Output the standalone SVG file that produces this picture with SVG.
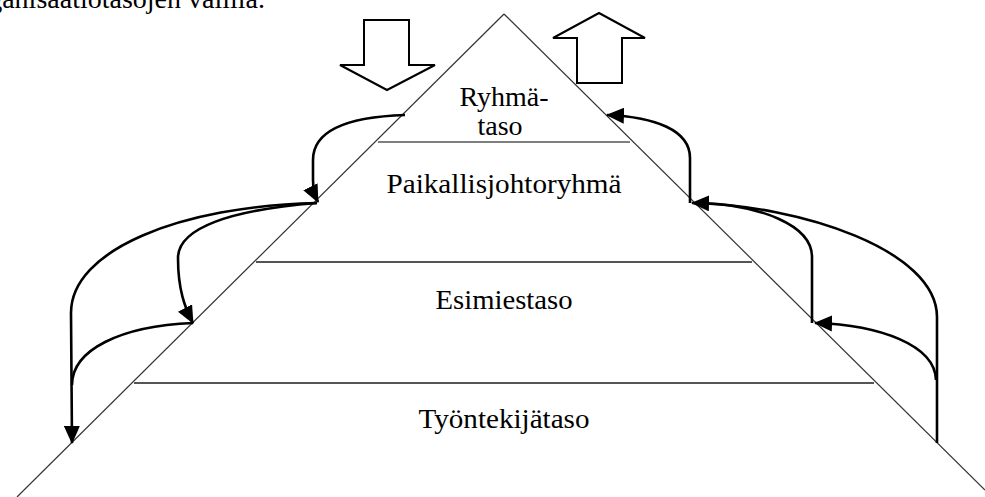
<svg xmlns="http://www.w3.org/2000/svg" width="985" height="497" viewBox="0 0 985 497">
<style>
.lbl{font-family:"Liberation Serif","Times New Roman",serif;font-size:28px;fill:#000;text-anchor:middle}
.edge{stroke:#333;stroke-width:1.2;fill:none}
.lvl{stroke:#555;stroke-width:2;fill:none}
.blk{fill:#fff;stroke:#000;stroke-width:2;stroke-linejoin:miter}
.cv{fill:none;stroke:#000;stroke-width:2.6}
</style>
<defs>
<marker id="ah" viewBox="0 0 18 16" refX="17" refY="8" markerWidth="18" markerHeight="16" markerUnits="userSpaceOnUse" orient="auto">
<path d="M0,0 L18,8 L0,16 Z" fill="#000"/>
</marker>
</defs>
<rect width="985" height="497" fill="#fff"/>
<text class="lbl" x="265" y="8" style="text-anchor:end">organisaatiotasojen välillä.</text>
<g id="pyramid">
<line class="edge" x1="504" y1="14" x2="17" y2="497"/>
<line class="edge" x1="504" y1="14" x2="985" y2="490"/>
</g>
<g id="ryhmataso">
<line x1="378" y1="142" x2="630" y2="142" stroke="#000" stroke-width="1.2"/>
<text class="lbl" x="504" y="106">Ryhmä-</text>
<text class="lbl" x="500" y="135">taso</text>
</g>
<g id="paikallisjohtoryhma">
<line class="lvl" x1="256" y1="262" x2="752" y2="262"/>
<text class="lbl" x="504" y="193" textLength="235" lengthAdjust="spacingAndGlyphs">Paikallisjohtoryhmä</text>
</g>
<g id="esimiestaso">
<line class="lvl" x1="134" y1="383" x2="874" y2="383"/>
<text class="lbl" x="504" y="309" textLength="137" lengthAdjust="spacingAndGlyphs">Esimiestaso</text>
</g>
<g id="tyontekijataso">
<text class="lbl" x="504" y="428" textLength="171" lengthAdjust="spacingAndGlyphs">Työntekijätaso</text>
</g>
<g id="down-arrow">
<polygon class="blk" points="364,20 409,20 409,65 435,65 387,90 340,65 364,65"/>
</g>
<g id="up-arrow">
<polygon class="blk" points="599,13 645,38 622,38 622,83 577,83 577,38 553,38"/>
</g>
<g id="connectors">
<path class="cv" d="M405,115 C345,117 313,132 313,160 L313,180 C313,190 315,196 318,202" marker-end="url(#ah)"/>
<path class="cv" d="M317,203 C180,206 71,250 71,313 L72,443" marker-end="url(#ah)"/>
<path class="cv" d="M317,203 C230,210 178,228 178,258 C178,290 185,308 193,323" marker-end="url(#ah)"/>
<path class="cv" d="M193,323 C120,326 72,350 72,385"/>
<path class="cv" d="M690,203 L690,158 C690,130 655,117 607,115" marker-end="url(#ah)"/>
<path class="cv" d="M937,443 L937,317 C937,250 800,205 692,203" marker-end="url(#ah)"/>
<path class="cv" d="M936,380 C935,345 880,325 815,323" marker-end="url(#ah)"/>
<path class="cv" d="M812,323 L812,257 C812,225 760,205 700,203"/>
</g>
</svg>
